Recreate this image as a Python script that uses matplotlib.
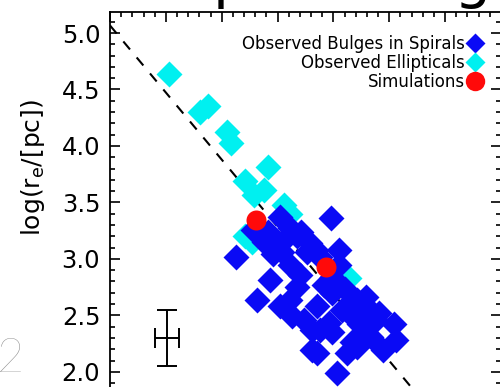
import matplotlib
matplotlib.use('Agg')
import matplotlib.pyplot as plt
from matplotlib.lines import Line2D
import numpy as np

# observed ellipticals (x in log units, y = log r_e / pc)
ell_x = [2.53, 2.81, 2.88, 3.05, 3.08, 3.41, 3.21, 3.38, 3.29, 3.56, 3.61,
         3.27, 3.21, 4.14]
ell_y = [4.64, 4.30, 4.35, 4.12, 4.03, 3.81, 3.69, 3.61, 3.57, 3.48, 3.40,
         3.15, 3.20, 2.83]

# observed bulges in spirals
bulge_x = [3.98, 3.13, 3.28, 3.52, 3.46, 3.67, 3.79, 3.76, 3.88, 3.43,
           3.32, 3.52, 3.63, 3.67, 3.85, 3.99, 3.99, 4.05, 3.88, 3.85,
           4.03, 3.99, 4.17, 4.21, 4.12, 4.29, 4.41, 4.56, 4.34, 4.29,
           4.38, 4.44, 4.17, 3.81, 3.81, 3.96, 3.61, 3.70, 3.56, 3.38,
           4.10, 4.21, 4.54, 3.61, 3.74, 4.08, 3.92, 4.23, 3.61, 3.71,
           3.84, 3.41, 3.54, 4.05]
bulge_y = [3.36, 3.02, 3.26, 3.37, 3.04, 3.20, 3.14, 3.06, 3.02, 2.81,
           2.64, 2.58, 2.49, 2.75, 2.58, 2.70, 2.84, 2.95, 2.37, 2.17,
           1.99, 2.35, 2.49, 2.22, 2.17, 2.66, 2.52, 2.28, 2.31, 2.58,
           2.46, 2.19, 2.26, 2.37, 2.19, 2.43, 2.95, 2.86, 3.17, 3.15,
           2.73, 2.64, 2.42, 2.64, 2.46, 2.55, 2.77, 2.42, 3.27, 3.24,
           3.08, 3.24, 3.06, 3.08]

# simulated galaxies
sim_x = [3.31, 3.93]
sim_y = [3.345, 2.93]

# scaling relation: log r_e = a + b * x
rel_a = 7.443
rel_b = -1.188

# typical uncertainty
err_x, err_y = 2.51, 2.30
err_dx, err_dy = 0.11, 0.25

BLUE = '#0a0af5'
CYAN = '#00f0f0'
RED = '#ff0a0a'

fig = plt.figure(figsize=(5.0, 3.87), dpi=100)
ax = fig.add_axes([110 / 500, 1 - 417 / 387, 391 / 500, 405 / 387])

xlim = (2.0, 2.0 + 391 / 112)
ylim = (1.6, 5.186)

xs = np.array(xlim)
line, = ax.plot(xs, rel_a + rel_b * xs, color='black', lw=1.5,
                ls='--', zorder=1)
line.set_dashes((5, 5))

ax.plot(ell_x, ell_y, ls='none', marker='D', ms=13, mfc=CYAN, mec='none',
        zorder=2)
ax.plot(bulge_x, bulge_y, ls='none', marker='D', ms=13, mfc=BLUE,
        mec='none', zorder=3)
ax.plot(sim_x, sim_y, ls='none', marker='o', ms=14.4, mfc=RED, mec='none',
        zorder=4)

ax.errorbar([err_x], [err_y], xerr=[err_dx], yerr=[err_dy], fmt='none',
            ecolor='black', elinewidth=1.4, capsize=7, capthick=1.4)

ax.set_xlim(*xlim)
ax.set_ylim(*ylim)
ax.set_xticks(np.arange(2.0, 5.6, 0.5))
ax.set_xticks(np.arange(2.0, 5.6, 0.1), minor=True)
ax.set_yticks(np.arange(2.0, 5.01, 0.5))
ax.set_yticks(np.arange(1.6, 5.2, 0.1), minor=True)
ax.set_yticklabels([f'{v:.1f}' for v in np.arange(2.0, 5.01, 0.5)])
ax.set_xticklabels([])
ax.tick_params(which='both', direction='in', top=True, right=True,
               width=1.2, colors='black')
ax.tick_params(which='major', length=7, labelsize=17.5, pad=7)
ax.tick_params(which='minor', length=3.5)
for sp in ax.spines.values():
    sp.set_linewidth(1.3)

fig.text(33 / 500, 1 - 167 / 387, r'log(r$_{\rm e}$/[pc])', rotation=90,
         ha='center', va='center', fontsize=18)

handles = [
    Line2D([], [], ls='none', marker='D', ms=10, mfc=BLUE, mec='none'),
    Line2D([], [], ls='none', marker='D', ms=10, mfc=CYAN, mec='none'),
    Line2D([], [], ls='none', marker='o', ms=14, mfc=RED, mec='none'),
]
labels = ['Observed Bulges in Spirals', 'Observed Ellipticals', 'Simulations']
ax.legend(handles, labels, loc='upper right', bbox_to_anchor=(0.954, 0.943),
          markerfirst=False, frameon=False, fontsize=12, handlelength=1.0,
          handletextpad=0.1, labelspacing=0.05, borderpad=0,
          borderaxespad=0)

# heading above the panel and the neighbouring panel number
fig.text(176 / 500, 1 + 3 / 387, 'Spiral Bulges', fontsize=42, ha='left',
         va='baseline', color='black')
fig.text(-3 / 500, 1 - 372 / 387, '2', fontsize=34, ha='left',
         va='baseline', color='#8c8c8c', family='Lato', fontweight='light')

fig.savefig('out.png', dpi=100)
